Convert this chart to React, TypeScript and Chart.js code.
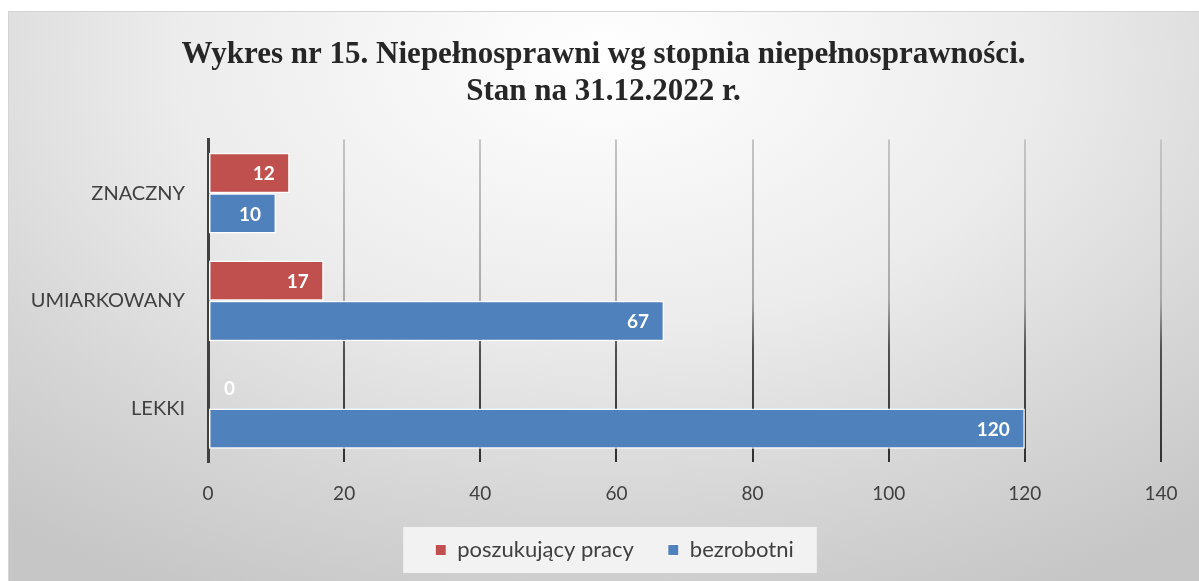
import React, { useEffect, useRef } from "react";
import { Chart, registerables } from "chart.js";

Chart.register(...registerables);

const categories = ["ZNACZNY", "UMIARKOWANY", "LEKKI"];
const seriesNames = ["poszukujący pracy", "bezrobotni"];
const poszukujacy = [12, 17, 0];
const bezrobotni = [10, 67, 120];
const xTicks = [0, 20, 40, 60, 80, 100, 120, 140];
const titleLines = [
  "Wykres nr 15. Niepełnosprawni wg stopnia niepełnosprawności.",
  "Stan na 31.12.2022 r.",
];

const RED = "#c0504d";
const BLUE = "#4f81bd";
const TEXT = "#404040";

const valueLabels = {
  id: "valueLabels",
  afterDatasetsDraw(chart: any) {
    const ctx = chart.ctx;
    ctx.save();
    ctx.font = "bold 19px Lato";
    ctx.fillStyle = "#ffffff";
    ctx.textBaseline = "middle";
    chart.data.datasets.forEach((ds: any, di: number) => {
      const meta = chart.getDatasetMeta(di);
      meta.data.forEach((bar: any, i: number) => {
        const v = ds.data[i];
        const txt = String(v);
        const w = ctx.measureText(txt).width;
        const len = bar.x - bar.base;
        if (len > w + 20) {
          ctx.textAlign = "right";
          ctx.fillText(txt, bar.x - 15, bar.y + 1);
        } else {
          ctx.textAlign = "left";
          ctx.fillText(txt, bar.x + 16, bar.y + 1);
        }
      });
    });
    ctx.restore();
  },
};

const legendBox = {
  id: "legendBox",
  afterLayout(chart: any) {
    const lg = chart.legend;
    if (lg) {
      lg.left += 30;
      lg.right += 30;
    }
    const tb = chart.titleBlock;
    if (tb) {
      tb.right += 38;
    }
  },
  beforeDraw(chart: any) {
    const lg = chart.legend;
    if (!lg || !lg.legendHitBoxes || !lg.legendHitBoxes.length) return;
    const hb = lg.legendHitBoxes;
    const first = hb[0];
    const last = hb[hb.length - 1];
    const cy = first.top + first.height / 2;
    const left = first.left - 32;
    const right = last.left + last.width + 23;
    const ctx = chart.ctx;
    ctx.save();
    ctx.fillStyle = "#f2f2f2";
    ctx.fillRect(left, cy - 23, right - left, 46);
    ctx.restore();
  },
};

export default function App() {
  const ref = useRef<HTMLCanvasElement | null>(null);
  useEffect(() => {
    if (!ref.current) return;
    const chart = new Chart(ref.current, {
      type: "bar",
      data: {
        labels: categories,
        datasets: [
          {
            label: seriesNames[0],
            data: poszukujacy,
            backgroundColor: RED,
            borderColor: "#ffffff",
            borderWidth: 1.5,
            borderSkipped: false,
          },
          {
            label: seriesNames[1],
            data: bezrobotni,
            backgroundColor: BLUE,
            borderColor: "#ffffff",
            borderWidth: 1.5,
            borderSkipped: false,
          },
        ],
      },
      plugins: [legendBox, valueLabels],
      options: {
        indexAxis: "y",
        responsive: false,
        animation: false,
        devicePixelRatio: 1,
        layout: { padding: { left: 0, right: 38, top: 0, bottom: 10 } },
        datasets: { bar: { categoryPercentage: 0.75, barPercentage: 1 } },
        scales: {
          x: {
            min: 0,
            max: 140,
            afterBuildTicks(scale: any) {
              scale.ticks = xTicks.map((v) => ({ value: v }));
            },
            afterFit(scale: any) {
              scale.height = scale.height - 20;
            },
            grid: {
              drawTicks: false,
              lineWidth: 2,
              color: (c: any) => {
                const ch = c.chart;
                const a = ch.chartArea;
                if (!a) return "#888";
                const g = ch.ctx.createLinearGradient(0, a.top, 0, a.bottom);
                g.addColorStop(0, "#c4c4c4");
                g.addColorStop(0.5, "#a8a8a8");
                g.addColorStop(0.65, "#505050");
                g.addColorStop(1, "#303030");
                return g;
              },
            },
            border: { display: false },
            ticks: {
              color: TEXT,
              padding: 20,
              font: { family: "Lato", size: 19 },
            },
          },
          y: {
            grid: { display: false, drawTicks: false },
            border: { display: true, color: "#404040", width: 3 },
            afterFit(scale: any) {
              scale.width = 200;
            },
            ticks: {
              color: TEXT,
              padding: 23,
              font: { family: "Lato", size: 20 },
            },
          },
        },
        plugins: {
          title: {
            display: true,
            text: titleLines,
            color: "#262626",
            font: { family: "Liberation Serif", size: 31, weight: "bold", lineHeight: 1.2 },
            padding: { top: 25, bottom: 29 },
          },
          legend: {
            position: "bottom",
            labels: {
              color: TEXT,
              font: { family: "Lato", size: 22 },
              boxWidth: 11,
              boxHeight: 11,
              padding: 34,
              generateLabels(chart: any) {
                return chart.data.datasets.map((ds: any, i: number) => ({
                  text: ds.label,
                  fillStyle: ds.backgroundColor,
                  strokeStyle: "#ffffff",
                  lineWidth: 1,
                  fontColor: TEXT,
                  datasetIndex: i,
                  hidden: false,
                }));
              },
            },
          },
          tooltip: { enabled: false },
        },
      },
    } as any);
    return () => chart.destroy();
  }, []);

  return (
    <div
      style={{
        position: "absolute",
        left: 8,
        top: 11,
        width: 1191,
        height: 570,
        boxSizing: "border-box",
        borderTop: "1px solid #d4d4d4",
        borderLeft: "1px solid #d4d4d4",
        background:
          "radial-gradient(ellipse 80% 105% at 50% 8%, #ffffff 0%, #ececec 45%, #d6d6d6 75%, #c6c6c6 100%)",
      }}
    >
      <canvas ref={ref} width={1191} height={570} style={{ display: "block", position: "absolute", left: -1, top: -1 }} />
    </div>
  );
}
